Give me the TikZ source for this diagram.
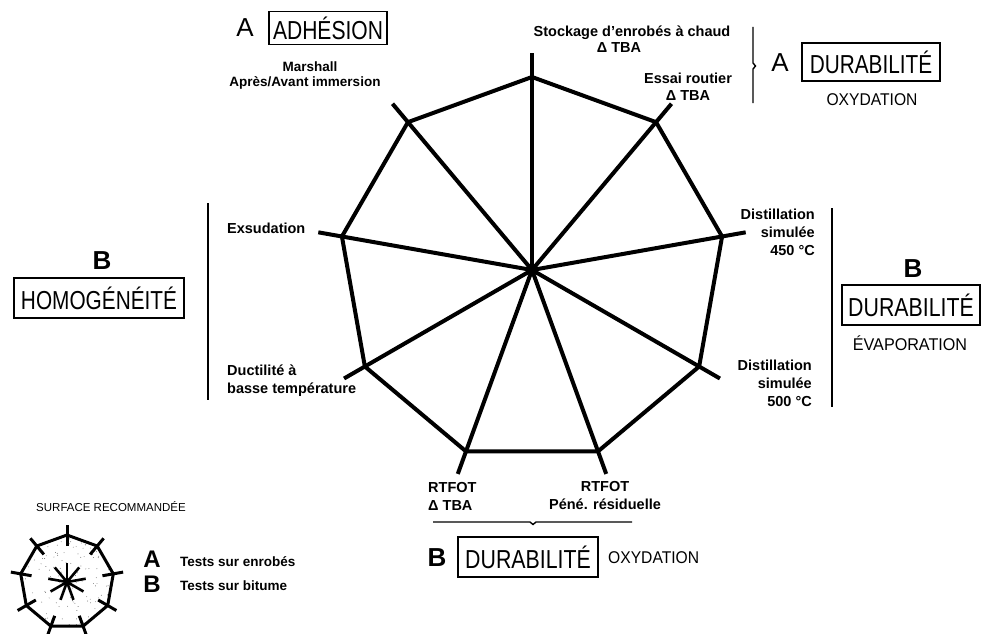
\documentclass[tikz,border=0pt]{standalone}
\usepackage{fontspec}
\setmainfont{Liberation Sans}
\usetikzlibrary{calc}
\begin{document}
\begin{tikzpicture}[x=1pt,y=-1pt,
  lab/.style={font=\fontsize{14.5}{18}\selectfont\bfseries, inner sep=0pt},
  labsm/.style={font=\fontsize{13.5}{16}\selectfont\bfseries, inner sep=0pt},
  legtxt/.style={font=\fontsize{13.5}{15}\selectfont\bfseries, inner sep=0pt},
  bigA/.style={font=\fontsize{26}{28}\selectfont, inner sep=0pt},
  bigB/.style={font=\fontsize{26}{28}\selectfont\bfseries, inner sep=0pt},
  titlebox/.style={draw, line width=1.1pt, inner sep=0pt, minimum height=38pt,
     font=\fontsize{26}{28}\selectfont},
  subtitle/.style={font=\fontsize{17}{19}\selectfont, inner sep=0pt},
  spoke/.style={line width=4pt},
  poly/.style={line width=4pt, line join=round},
  bracket/.style={line width=1.4pt},
  legline/.style={line width=3pt, line join=round}
]
\useasboundingbox (0,0) rectangle (982,634);

% ---------- main nonagon ----------
\coordinate (C) at (532,270);
\foreach \i/\a in {1/90,2/50,3/10,4/-30,5/-70,6/-110,7/-150,8/170,9/130}{
  \coordinate (v\i) at ($(C)+(\a:193pt)$);
  \coordinate (s\i) at ($(C)+(\a:217pt)$);
}
\foreach \i in {1,...,9}{ \draw[spoke] (C) -- (s\i); }
\draw[poly] (v1) -- (v2) -- (v3) -- (v4) -- (v5) -- (v6) -- (v7) -- (v8) -- (v9) -- cycle;

% ---------- axis labels ----------
\node[labsm] (marsh) at (310,67) {Marshall};
\node[labsm] (apres) at (305,83) {Après/Avant immersion};
\node[lab] (stock) at (632,33) {Stockage d'enrobés à chaud};
\node[lab] (stockd) at (619,48) {Δ TBA};
\node[lab] (essai) at (688,78) {Essai routier};
\node[lab] (essaid) at (688,96) {Δ TBA};
\node[lab, anchor=east, align=right] (d450) at (815,232) {Distillation\\simulée\\450 °C};
\node[lab, anchor=east, align=right] (d500) at (812,383) {Distillation\\simulée\\500 °C};
\node[lab, anchor=west] (exsu) at (227,228) {Exsudation};
\node[lab, anchor=west, align=left] (duct) at (227,381) {Ductilité à\\basse température};
\node[lab, anchor=west, align=left] (rtf1) at (428,496) {RTFOT\\Δ TBA};
\node[lab, align=center] (rtf2) at (605,496) {RTFOT\\Péné. résiduelle};

% ---------- group titles ----------
\node[bigA] (aAdh) at (245,28) {A};
\node[titlebox, minimum width=118pt, minimum height=33pt] (adh) at (328,28) {\scalebox{0.81}[1]{ADHÉSION}};

\draw[bracket] (753,27) -- (753,63) -- (755.5,66) -- (753,69) -- (753,103);
\node[bigA] (aDur) at (780,63) {A};
\node[titlebox, minimum width=138pt] (dur1) at (871,62) {\scalebox{0.8}[1]{DURABILITÉ}};
\node[subtitle] (oxy1) at (872,100) {\scalebox{0.92}[1]{OXYDATION}};

\draw[bracket] (832,208) -- (832,407);
\node[bigB] (bEva) at (913,269) {B};
\node[titlebox, minimum width=138pt, minimum height=40pt] (dur2) at (911,305) {\scalebox{0.82}[1]{DURABILITÉ}};
\node[subtitle] (evap) at (910,343) {\scalebox{0.95}[1]{ÉVAPORATION}};

\draw[bracket] (208,203) -- (208,400);
\node[bigB] (bHom) at (102,261) {B};
\node[titlebox, minimum width=170pt, minimum height=40pt] (homo) at (99,298) {\scalebox{0.8}[1]{HOMOGÉNÉITÉ}};

\draw[bracket] (433,522) -- (530,522) -- (533,524.5) -- (536,522) -- (632,522);
\node[bigB] (bOxy) at (437,558) {B};
\node[titlebox, minimum width=140pt, minimum height=40pt] (dur3) at (528,557) {\scalebox{0.82}[1]{DURABILITÉ}};
\node[subtitle, anchor=west] (oxy2) at (608,558) {\scalebox{0.92}[1]{OXYDATION}};

% ---------- legend ----------
\node[font=\fontsize{11.5}{13}\selectfont, inner sep=0pt] (surf) at (111,507) {SURFACE RECOMMANDÉE};
\coordinate (L) at (67,582);
\foreach \i/\a in {1/90,2/50,3/10,4/-30,5/-70,6/-110,7/-150,8/170,9/130}{
  \coordinate (l\i) at ($(L)+(\a:47pt)$);
  \coordinate (li\i) at ($(L)+(\a:36pt)$);
  \coordinate (lo\i) at ($(L)+(\a:57pt)$);
  \coordinate (st\i) at ($(L)+(\a:19pt)$);
}
\begin{scope}
  \clip (l1) -- (l2) -- (l3) -- (l4) -- (l5) -- (l6) -- (l7) -- (l8) -- (l9) -- cycle;
  \pgfmathsetseed{11}
  \foreach \k in {1,...,160}{
    \fill[black!60] ($(L)+(rand*48pt,rand*48pt)$) circle (0.45pt);
  }
\end{scope}
\draw[legline] (l1) -- (l2) -- (l3) -- (l4) -- (l5) -- (l6) -- (l7) -- (l8) -- (l9) -- cycle;
\foreach \i in {1,...,9}{
  \draw[legline] (li\i) -- (lo\i);
  \draw[line width=2.6pt] (L) -- (st\i);
}
\fill (L) circle (3pt);
\node[bigB, font=\fontsize{24}{26}\selectfont\bfseries] (legA) at (152,559) {A};
\node[bigB, font=\fontsize{24}{26}\selectfont\bfseries] (legB) at (152,584) {B};
\node[legtxt, anchor=west] (tA) at (180,562) {Tests sur enrobés};
\node[legtxt, anchor=west] (tB) at (180,586) {Tests sur bitume};
\end{tikzpicture}
\end{document}
